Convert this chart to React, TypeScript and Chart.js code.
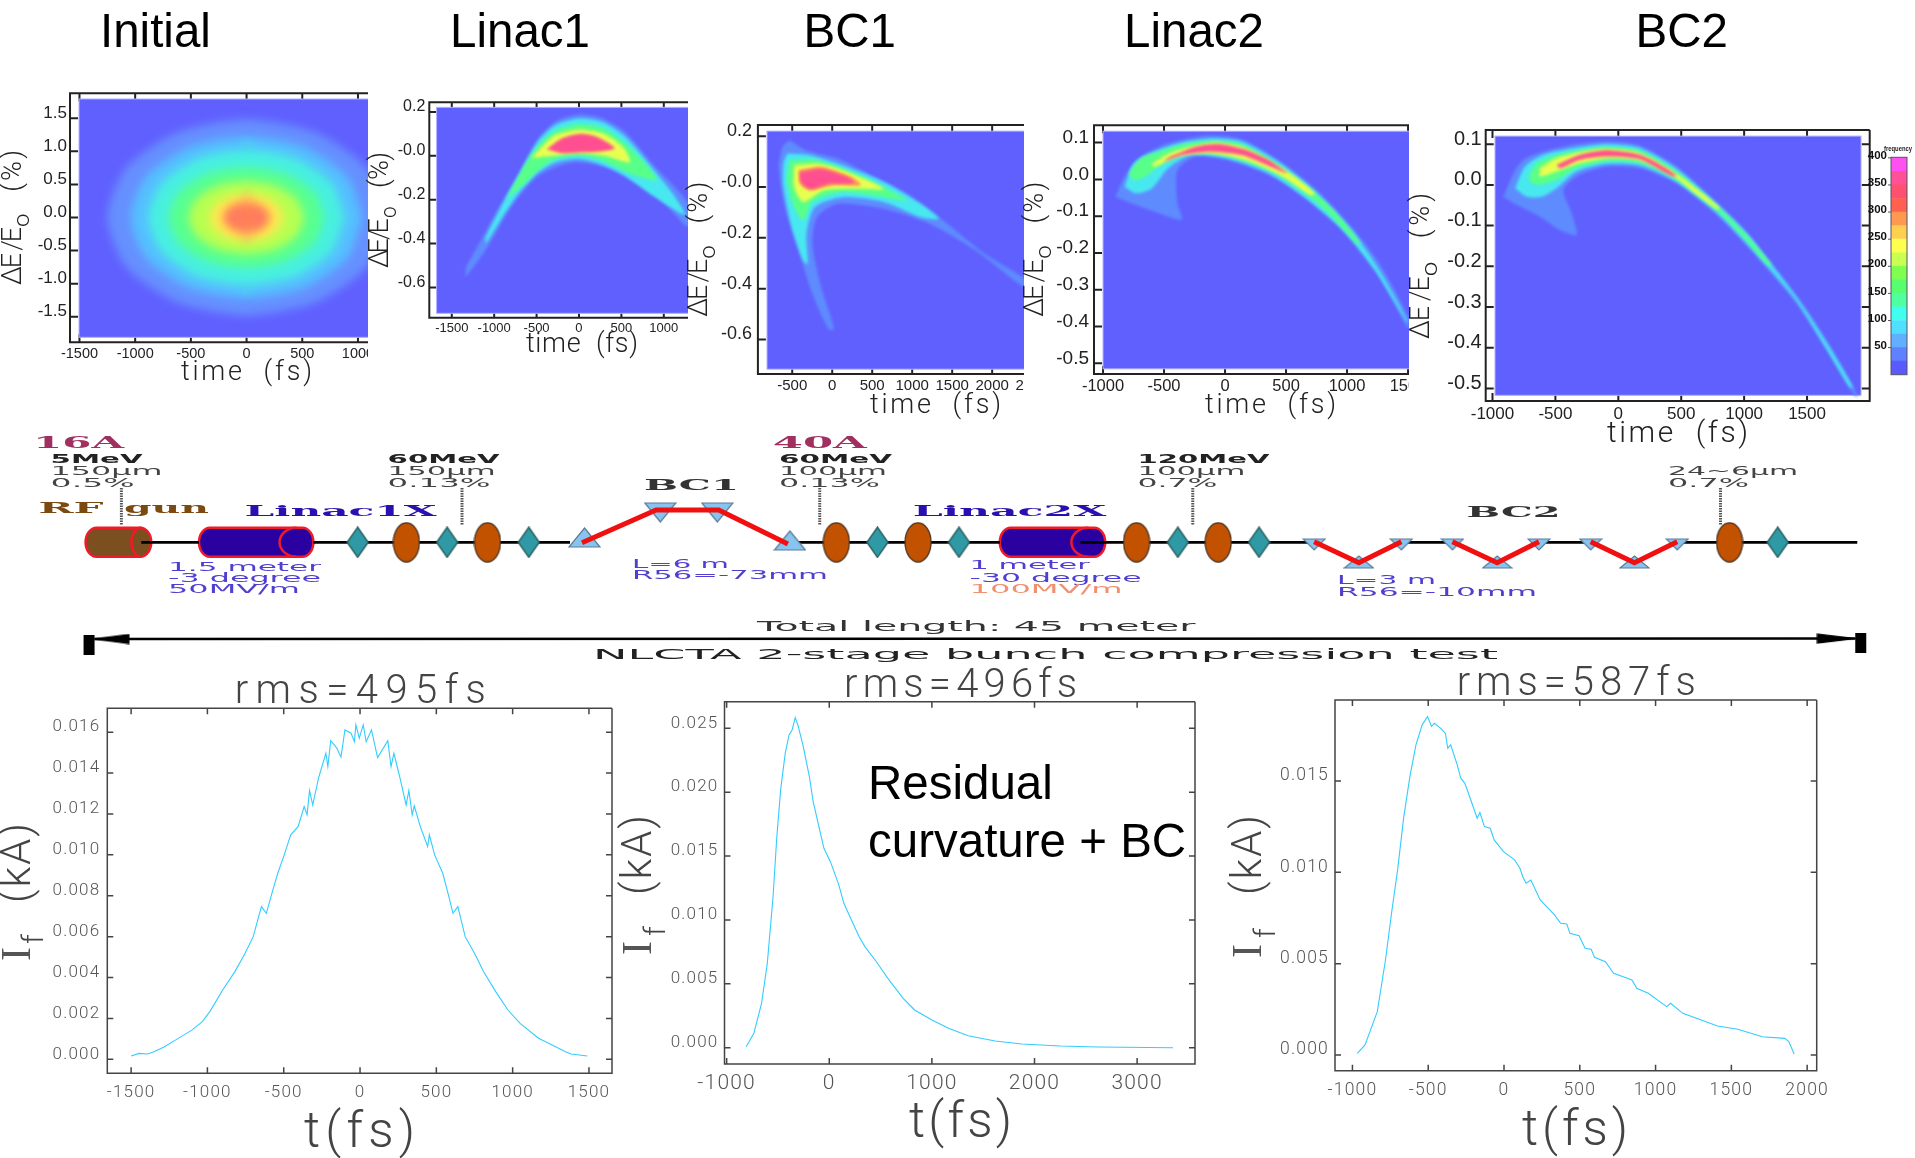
import React, { useEffect, useRef } from "react";
import { Chart, registerables } from "chart.js";
Chart.register(...registerables);

const W = 1915, H = 1158;
const ARIAL = '"Liberation Sans",sans-serif';
const THIN = 'Roboto,"Liberation Sans",sans-serif';
const SERIF = '"DejaVu Serif",serif';
const SLAB = '"Liberation Serif",serif';
const SANS = '"DejaVu Sans",sans-serif';

// colours of the density map
const HEAT_BG = "#6060ff";
const C_FAINT = "#5e8cff", C_CYAN = "#48e8f0", C_GREEN = "#58ff88", C_YELLOW = "#e8ff50", C_ORANGE = "#ff9058", C_PINK = "#ff4f90";

// density contours, [time fs, dE/E0 %]
const initialContours: [string, number[][]][] = [
  ["#6690ff", [[1250,0],[1085,.74],[625,1.28],[0,1.48],[-625,1.28],[-1085,.74],[-1250,0],[-1085,-.74],[-625,-1.28],[0,-1.48],[625,-1.28],[1085,-.74]]],
  ["#55c0ff", [[1040,0],[905,.61],[520,1.06],[0,1.22],[-520,1.06],[-905,.61],[-1040,0],[-905,-.61],[-520,-1.06],[0,-1.22],[520,-1.06],[905,-.61]]],
  ["#48f0e0", [[880,0],[765,.51],[440,.89],[0,1.02],[-440,.89],[-765,.51],[-880,0],[-765,-.51],[-440,-.89],[0,-1.02],[440,-.89],[765,-.51]]],
  ["#58ff90", [[700,0],[610,.38],[350,.66],[0,.76],[-350,.66],[-610,.38],[-700,0],[-610,-.38],[-350,-.66],[0,-.76],[350,-.66],[610,-.38]]],
  ["#b8ff50", [[520,0],[450,.28],[260,.48],[0,.55],[-260,.48],[-450,.28],[-520,0],[-450,-.28],[-260,-.48],[0,-.55],[260,-.48],[450,-.28]]],
  ["#ffe850", [[330,0],[285,.18],[165,.31],[0,.36],[-165,.31],[-285,.18],[-330,0],[-285,-.18],[-165,-.31],[0,-.36],[165,-.31],[285,-.18]]],
  ["#ff8858", [[210,0],[180,.12],[105,.21],[0,.24],[-105,.21],[-180,.12],[-210,0],[-180,-.12],[-105,-.21],[0,-.24],[105,-.21],[180,-.12]]],
];
const initialSpotsPink = [[-120,.06],[-120,-.06],[120,.06],[120,-.06],[-70,.12],[70,.12],[-70,-.12],[70,-.12],[-165,0],[165,0],[0,.35],[0,-.35],[0,.22],[0,-.22],[-40,0],[40,0]];
const initialSpotsCyan = [[0,1.13],[-30,1.1],[30,1.1],[0,-1.13],[-30,-1.1],[30,-1.1]];

const linac1Contours: [string, number[][]][] = [
  [C_FAINT, [[-1334,-.507],[-1090,-.339],[-873,-.186],[-710,-.079],[-493,.073],[-277,.157],[-5,.188],[266,.173],[537,.111],[862,-.034],[1285,-.217],[1285,-.324],[970,-.2],[645,-.118],[320,-.053],[-5,-.029],[-222,-.044],[-493,-.095],[-710,-.186],[-873,-.278],[-1090,-.423],[-1334,-.55]]],
  [C_CYAN, [[-1100,-.37],[-873,-.2],[-710,-.09],[-493,.06],[-277,.14],[0,.17],[266,.155],[537,.09],[862,-.055],[1100,-.17],[1250,-.27],[862,-.18],[537,-.09],[266,-.04],[0,-.015],[-277,-.03],[-493,-.08],[-710,-.17],[-873,-.26],[-1100,-.40]]],
  [C_GREEN, [[-860,-.2],[-650,-.05],[-493,.04],[-277,.115],[0,.145],[266,.13],[537,.06],[750,-.02],[920,-.11],[750,-.1],[537,-.07],[266,-.02],[0,0],[-277,-.015],[-493,-.07],[-650,-.13]]],
  [C_YELLOW, [[-560,-.01],[-300,.09],[0,.12],[300,.1],[520,.04],[600,-.03],[300,0],[0,.012],[-300,0]]],
  [C_PINK, [[-380,.03],[-200,.08],[0,.1],[200,.088],[420,.035],[200,.018],[0,.015],[-200,.012]]],
];

const bc1Contours: [string, number[][]][] = [
  [C_FAINT, [[-534,.184],[-333,.145],[69,.112],[529,.039],[931,-.026],[1333,-.118],[1908,-.263],[2402,-.362],[2402,-.395],[1793,-.25],[1218,-.145],[644,-.086],[69,-.066],[-190,-.118],[-247,-.224],[-149,-.382],[23,-.559],[-46,-.559],[-247,-.421],[-420,-.25],[-592,-.079],[-667,.079],[-620,.158]]],
  [C_CYAN, [[-563,.132],[-276,.125],[184,.079],[644,.02],[1103,-.066],[1333,-.125],[1103,-.118],[644,-.059],[126,-.04],[-218,-.079],[-322,-.184],[-305,-.303],[-362,-.29],[-506,-.158],[-609,0],[-609,.092]]],
  [C_GREEN, [[-534,.105],[-218,.108],[184,.066],[644,0],[931,-.053],[644,-.04],[126,-.02],[-247,-.059],[-362,-.132],[-477,-.079],[-563,.026]]],
  [C_YELLOW, [[-477,.086],[-161,.092],[241,.053],[644,-.007],[299,-.007],[-103,-.013],[-362,-.059],[-477,0]]],
  [C_ORANGE, [[-420,.066],[-132,.079],[241,.039],[356,.007],[11,.007],[-276,-.013],[-402,.013]]],
  [C_PINK, [[-402,.059],[-132,.07],[184,.039],[270,.016],[-46,.013],[-276,-.007],[-391,.02]]],
];

const linac2Contours: [string, number[][]][] = [
  [C_FAINT, [[-898,-.047],[-823,.007],[-692,.062],[-466,.098],[-165,.118],[135,.109],[436,.052],[737,-.024],[1037,-.129],[1263,-.228],[1500,-.373],[1500,-.405],[1225,-.237],[962,-.129],[662,-.047],[361,.012],[23,.052],[-241,.062],[-391,.025],[-391,-.065],[-353,-.11],[-541,-.092],[-767,-.065]]],
  [C_CYAN, [[-823,-.02],[-748,.043],[-541,.08],[-316,.102],[-90,.111],[135,.102],[436,.048],[737,-.033],[1037,-.138],[1263,-.246],[1500,-.386],[1489,-.386],[1225,-.246],[962,-.138],[662,-.052],[361,.016],[23,.057],[-278,.066],[-466,.03],[-598,-.024],[-729,-.038]]],
  [C_GREEN, [[-786,.016],[-692,.057],[-504,.08],[-316,.098],[-90,.105],[135,.096],[436,.039],[662,-.015],[887,-.083],[1113,-.174],[1083,-.174],[850,-.092],[624,-.029],[361,.025],[23,.063],[-278,.072],[-504,.043],[-654,.007],[-748,-.002]]],
  [C_YELLOW, [[-598,.043],[-429,.075],[-90,.1],[173,.084],[511,.021],[737,-.038],[699,-.043],[474,.007],[173,.052],[-128,.071],[-391,.062],[-579,.034]]],
  [C_PINK, [[-447,.062],[-241,.089],[-53,.096],[173,.08],[361,.052],[511,.016],[342,.039],[135,.066],[-128,.075],[-353,.066],[-504,.048]]],
];

const bc2Contours: [string, number[][]][] = [
  [C_FAINT, [[-913,-.029],[-833,.029],[-754,.062],[-595,.082],[-357,.099],[-93,.107],[172,.097],[463,.045],[807,-.049],[1019,-.115],[1230,-.197],[1442,-.283],[1680,-.394],[1905,-.518],[1879,-.518],[1654,-.402],[1416,-.291],[1204,-.213],[992,-.14],[781,-.074],[463,.004],[172,.041],[-93,.045],[-331,.021],[-437,-.012],[-370,-.07],[-331,-.123],[-463,-.111],[-622,-.078],[-833,-.045]]],
  [C_CYAN, [[-820,-.008],[-741,.045],[-595,.074],[-357,.09],[-93,.1],[172,.09],[463,.039],[807,-.055],[1019,-.119],[1230,-.201],[1442,-.287],[1667,-.394],[1865,-.497],[1839,-.497],[1649,-.4],[1421,-.287],[1206,-.207],[992,-.134],[781,-.067],[450,.01],[172,.048],[-93,.052],[-331,.033],[-490,-.008],[-609,-.029],[-728,-.029]]],
  [C_GREEN, [[-714,.021],[-648,.053],[-490,.074],[-304,.086],[-93,.093],[172,.084],[463,.033],[807,-.057],[1019,-.123],[1217,-.197],[1191,-.198],[997,-.129],[781,-.062],[450,.016],[172,.054],[-93,.058],[-331,.041],[-490,.012],[-622,0],[-688,.004]]],
  [C_YELLOW, [[-622,.041],[-490,.066],[-278,.082],[-93,.088],[172,.078],[463,.027],[648,-.016],[807,-.057],[781,-.059],[622,-.023],[450,.019],[172,.06],[-93,.065],[-304,.053],[-490,.033],[-622,.021]]],
  [C_PINK, [[-490,.049],[-304,.074],[-93,.085],[172,.074],[357,.045],[463,.022],[423,.022],[172,.063],[-93,.07],[-304,.062],[-463,.041]]],
];

// current profiles
const profile1T = [-1500,-1447,-1394,-1354,-1287,-1207,-1100,-1033,-980,-900,-820,-753,-700,-646,-614,-571,-539,-499,-454,-406,-366,-347,-331,-310,-272,-224,-211,-192,-152,-125,-99,-59,-37,-27,-5,21,40,75,115,182,203,222,262,302,320,342,355,395,443,454,489,542,582,609,641,689,756,809,889,969,1049,1169,1236,1343,1383,1490];
const profile1I = [.00016,.00029,.00026,.00036,.00059,.00095,.00144,.00184,.00238,.00339,.00429,.00519,.006,.00747,.00714,.00829,.0091,.00995,.01098,.01138,.01236,.01196,.01315,.01244,.01375,.01497,.01432,.01559,.01522,.01478,.01611,.01595,.01554,.01636,.01571,.01636,.01554,.01611,.01476,.01559,.01432,.01497,.01375,.01244,.01315,.01196,.0124,.01138,.01041,.01098,.01,.0091,.00796,.00714,.00747,.006,.0051,.00429,.00331,.00241,.00176,.00103,.00078,.00038,.00026,.00016];
const profile2T = [-810,-735,-660,-604,-548,-511,-474,-429,-392,-362,-332,-306,-257,-194,-157,-101,-52,11,93,142,216,291,347,459,571,720,832,1000,1168,1354,1616,1877,2250,2623,3350];
const profile2I = [.00008,.00112,.00347,.0066,.01182,.01652,.02018,.02305,.02448,.02487,.02584,.02526,.0237,.02122,.01926,.0173,.01561,.01456,.01274,.0113,.01,.00869,.00791,.00673,.00543,.00386,.00295,.00217,.00151,.00094,.00052,.00029,.00013,.00005,0];
const profile3T = [-968,-917,-836,-782,-742,-702,-661,-621,-581,-540,-505,-478,-460,-419,-387,-371,-352,-312,-285,-258,-204,-177,-159,-129,-91,-65,-3,70,105,124,145,177,239,333,374,414,435,495,535,575,597,669,723,844,876,952,1073,1099,1180,1301,1409,1543,1704,1852,1879,1914];
const profile3I = [.00009,.00055,.00237,.0052,.00776,.01013,.01305,.01524,.01697,.01807,.01852,.01798,.01816,.01789,.01761,.01679,.01697,.01597,.01515,.01487,.0136,.01296,.01327,.0125,.01241,.01177,.01113,.01068,.01022,.00976,.0094,.00958,.00849,.00767,.00721,.00717,.00666,.00653,.00584,.00579,.00535,.00511,.00447,.00411,.00365,.00338,.00265,.00283,.00228,.00192,.00159,.00141,.001,.00091,.00073,.00005];

// colour bar
const barEdges = [0,25,50,75,100,125,150,175,200,225,250,275,300,325,350,375,401];
const barColors = ["#5a5aff","#5f80ff","#60b0ff","#50e0ff","#40ffee","#50ffa0","#55ff70","#80ff50","#c8ff50","#ffff50","#ffd050","#ff9850","#ff6050","#ff5070","#ff5098","#ff50f0"];
const barTicks = [50,100,150,200,250,300,350,400];

// beamline schematic, positions along the line
const BEAM_Y = 542.3;
const beamSegments = [[137,195],[310,568],[787,1000],[1081,1317],[1404,1455],[1542,1594],[1681,1862]];
const diamondsX = [354.5,444.4,526.5,877,959,1179,1260.6,1782];
const solenoidsX = [403.5,485,835.7,917.8,1137.5,1219.6,1733.6];
const bc1Path = [[580,542.7],[654.5,510],[717.5,510],[787,544]];
const bc2Paths = [[[1316,541.7],[1361,562.7],[1403.7,541.7]],[[1455,541.7],[1500,562.7],[1542,541.7]],[[1594,541.7],[1638,562.7],[1681,541.7]]];
const bc1Up = [[582.5,537.5],[789,540.5]];
const bc1Down = [[658.7,512.5],[716,512.5]];
const bc2Down = [[1316,544.5],[1403.7,544.5],[1455,544.5],[1542,544.5],[1594,544.5],[1681,544.5]];
const bc2Up = [[1361,562],[1500,562],[1638,562]];
const diagnosticsX = [117,459.4,819,1194,1724.5];
const cavities = [
  { x0: 81, x1: 147, arc: 137, fill: "#7b4f20" },
  { x0: 195, x1: 310, arc: 293, fill: "#2a00a0" },
  { x0: 1000, x1: 1106, arc: 1089, fill: "#2a00a0" },
];

type Item = { t: string; x: number; y: number; w?: number; size: number; font?: string; color?: string; weight?: string | number; rot?: boolean; spaced?: boolean };

function drawItems(ctx: any, items: Item[]) {
  for (const it of items) {
    ctx.save();
    ctx.letterSpacing = "0px";
    ctx.font = `${it.weight ?? 400} ${it.size}px ${it.font ?? THIN}`;
    ctx.fillStyle = it.color ?? "#222";
    ctx.textAlign = "left";
    ctx.textBaseline = "alphabetic";
    ctx.translate(it.x, it.y);
    if (it.rot) ctx.rotate(-Math.PI / 2);
    if (it.w) {
      const m = ctx.measureText(it.t).width;
      if (it.spaced && it.t.length > 1) ctx.letterSpacing = `${(it.w - m) / (it.t.length - 1)}px`;
      else ctx.scale(it.w / m, 1);
    }
    ctx.fillText(it.t, 0, 0);
    ctx.restore();
  }
}

const heading = (t: string, x: number): Item => ({ t, x, y: 47, size: 47.5, font: ARIAL, color: "#000" });
const xTitle = (x: number, y: number, w: number, size = 27): Item => ({ t: "time  (fs)", x, y, w, size, weight: 300, spaced: true, color: "#222" });
const yTitle = (x: number, bottom: number, len: number, size = 27): Item[] => [
  { t: "ΔE /E", x, y: bottom, w: len * 0.43, size, weight: 300, rot: true, spaced: true, color: "#222" },
  { t: "o", x: x + 8, y: bottom - len * 0.43, w: len * 0.1, size: size * 0.8, weight: 300, rot: true, color: "#222" },
  { t: "(%)", x, y: bottom - len * 0.69, w: len * 0.31, size, weight: 300, rot: true, spaced: true, color: "#222" },
];
const rmsTitle = (t: string, x: number, y: number, w: number): Item => ({ t, x, y, w, size: 40, weight: 300, spaced: true, color: "#444" });
const tTitle = (x: number, y: number, w: number): Item => ({ t: "t(fs)", x, y, w, size: 50, weight: 300, spaced: true, color: "#444" });
const ifTitle = (x: number, bottom: number, top: number, fx: number, fy: number): Item[] => [
  { t: "I", x, y: bottom, size: 42, font: SLAB, weight: 400, rot: true, color: "#555" },
  { t: "f", x: fx, y: fy, size: 30, weight: 300, rot: true, color: "#444" },
  { t: "(kA)", x, y: top + 80, w: 80, size: 42, weight: 300, rot: true, spaced: true, color: "#444" },
];

type PanelSpec = {
  frame: number[]; xr: number[]; yr: number[]; xt: number[]; xl: string[]; yt: number[]; yl: string[];
  tickFont: any; xPad: number; yPad: number; tickSpacing?: string; tickColor: string;
  frameColor: string; frameWidth: number; tickLen: number; rightTicks: boolean; rightFrame: boolean;
  heat?: number[]; contours?: [string, number[][]][]; extra?: any[]; line?: { t: number[]; i: number[] };
  clipRight?: number; items: Item[]; xFont?: any; blur?: number;
};

const P_HEAT = { tickColor: "#222", frameColor: "#222", frameWidth: 2, tickLen: 8, blur: 1.8 };
const P_LINE = { tickColor: "#555", frameColor: "#444", frameWidth: 1.5, tickLen: 6, rightTicks: true, rightFrame: true, tickSpacing: "1.2px" };

const spots = (pts: number[][], c: string) => ({
  data: pts.map(([x, y]) => ({ x, y })), pointRadius: 2.2, pointStyle: "rect", pointBackgroundColor: c, pointBorderWidth: 0, showLine: false,
});

const panels: PanelSpec[] = [
  { ...P_HEAT, blur: 5, frame: [70, 93.3, 370, 342.3], xr: [-1585, 1108], yr: [-1.887, 1.878],
    xt: [-1500,-1000,-500,0,500,1000], xl: ["-1500","-1000","-500","0","500","1000"],
    yt: [1.5,1,.5,0,-.5,-1,-1.5], yl: ["1.5","1.0","0.5","0.0","-0.5","-1.0","-1.5"],
    tickFont: { family: ARIAL, size: 17 }, xFont: { family: ARIAL, size: 14.5 }, xPad: 3, yPad: 3, rightTicks: false, rightFrame: false,
    heat: [-1504, 1108, -1.812, 1.792], contours: initialContours,
    extra: [spots(initialSpotsPink, "#ff4f90"), spots(initialSpotsCyan, "#48f0e0")], clipRight: 368,
    items: [heading("Initial", 100), xTitle(181, 380, 131), ...yTitle(21, 285, 135)] },
  { ...P_HEAT, frame: [429.3, 102.3, 690, 317.7], xr: [-1765, 1309], yr: [-.738, .244],
    xt: [-1500,-1000,-500,0,500,1000], xl: ["-1500","-1000","-500","0","500","1000"],
    yt: [.2,0,-.2,-.4,-.6], yl: ["0.2","-0.0","-0.2","-0.4","-0.6"],
    tickFont: { family: ARIAL, size: 16 }, xFont: { family: ARIAL, size: 13 }, xPad: 3, yPad: 4, rightTicks: false, rightFrame: false,
    heat: [-1679, 1309, -.718, .221], contours: linac1Contours, clipRight: 688,
    items: [heading("Linac1", 450), xTitle(526, 352, 112), ...yTitle(388, 268, 116)] },
  { ...P_HEAT, frame: [757.9, 125, 1026, 374], xr: [-929, 2423], yr: [-.736, .244],
    xt: [-500,0,500,1000,1500,2000,2500], xl: ["-500","0","500","1000","1500","2000","2500"],
    yt: [.2,0,-.2,-.4,-.6], yl: ["0.2","-0.0","-0.2","-0.4","-0.6"],
    tickFont: { family: ARIAL, size: 18 }, xFont: { family: ARIAL, size: 15 }, xPad: 3, yPad: 6, rightTicks: false, rightFrame: false,
    heat: [-815, 2423, -.717, .22], contours: bc1Contours, clipRight: 1024,
    items: [heading("BC1", 803.6), xTitle(870, 413, 131), ...yTitle(707, 316.7, 135)] },
  { ...P_HEAT, frame: [1094, 125.3, 1410, 374], xr: [-1074, 1516], yr: [-.529, .147],
    xt: [-1000,-500,0,500,1000,1500], xl: ["-1000","-500","0","500","1000","1500"],
    yt: [.1,0,-.1,-.2,-.3,-.4,-.5], yl: ["0.1","0.0","-0.1","-0.2","-0.3","-0.4","-0.5"],
    tickFont: { family: ARIAL, size: 19 }, xFont: { family: ARIAL, size: 16.5 }, xPad: 3, yPad: 5, rightTicks: false, rightFrame: false,
    heat: [-1000, 1516, -.515, .131], contours: linac2Contours, clipRight: 1408.5,
    items: [heading("Linac2", 1124), xTitle(1205, 413, 131), ...yTitle(1043.4, 316.7, 135)] },
  { ...P_HEAT, frame: [1485.7, 130, 1869.7, 401], xr: [-1054, 1998], yr: [-.531, .135],
    xt: [-1000,-500,0,500,1000,1500], xl: ["-1000","-500","0","500","1000","1500"],
    yt: [.1,0,-.1,-.2,-.3,-.4,-.5], yl: ["0.1","0.0","-0.1","-0.2","-0.3","-0.4","-0.5"],
    tickFont: { family: ARIAL, size: 20 }, xFont: { family: ARIAL, size: 17 }, xPad: 3, yPad: 4, rightTicks: true, rightFrame: true,
    heat: [-980, 1929, -.517, .12], contours: bc2Contours,
    items: [heading("BC2", 1635.5), xTitle(1607, 441.6, 141, 30), ...yTitle(1429, 339, 146)] },
  { ...P_LINE, frame: [107.3, 708.3, 612, 1073.3], xr: [-1656, 1651], yr: [-.000685, .01717],
    xt: [-1500,-1000,-500,0,500,1000,1500], xl: ["-1500","-1000","-500","0","500","1000","1500"],
    yt: [.016,.014,.012,.01,.008,.006,.004,.002,0], yl: ["0.016","0.014","0.012","0.010","0.008","0.006","0.004","0.002","0.000"],
    tickFont: { family: THIN, size: 17, weight: 300 }, xPad: 9, yPad: 7,
    line: { t: profile1T, i: profile1I },
    items: [rmsTitle("rms=495fs", 234.7, 703, 251), tTitle(304, 1146.7, 111), ...ifTitle(30, 961, 823, 43, 944)] },
  { ...P_LINE, frame: [724.5, 701.7, 1195, 1064], xr: [-1021, 3564], yr: [-.001276, .02708],
    xt: [-1000,0,1000,2000,3000], xl: ["-1000","0","1000","2000","3000"],
    yt: [.025,.02,.015,.01,.005,0], yl: ["0.025","0.020","0.015","0.010","0.005","0.000"],
    tickFont: { family: THIN, size: 17, weight: 300 }, xFont: { family: THIN, size: 21, weight: 300 }, xPad: 7, yPad: 6,
    line: { t: profile2T, i: profile2I },
    items: [rmsTitle("rms=496fs", 844, 696.7, 233), tTitle(909, 1136.7, 103), ...ifTitle(651, 955, 815, 665, 936),
      { t: "Residual", x: 868, y: 799, size: 47.5, font: ARIAL, color: "#000" },
      { t: "curvature + BC", x: 868, y: 856.7, size: 47.5, font: ARIAL, color: "#000" }] },
  { ...P_LINE, frame: [1335, 700, 1816.7, 1070.7], xr: [-1115, 2063], yr: [-.00086, .01943],
    xt: [-1000,-500,0,500,1000,1500,2000], xl: ["-1000","-500","0","500","1000","1500","2000"],
    yt: [.015,.01,.005,0], yl: ["0.015","0.010","0.005","0.000"],
    tickFont: { family: THIN, size: 17.5, weight: 300 }, xPad: 9, yPad: 6,
    line: { t: profile3T, i: profile3I },
    items: [rmsTitle("rms=587fs", 1456.7, 695, 239), tTitle(1522, 1145, 106), ...ifTitle(1261, 958, 815, 1275, 938)] },
];

function panelConfig(p: PanelSpec) {
  const [l, t, r, b] = p.frame;
  const datasets: any[] = [];
  if (p.line) {
    datasets.push({ data: p.line.t.map((x, i) => ({ x, y: p.line!.i[i] })), showLine: true, borderColor: "#33ccff", borderWidth: 1.1, pointRadius: 0 });
  }
  if (p.extra) for (const e of p.extra) datasets.push(e);
  if (p.contours) for (const [color, poly] of [...p.contours].reverse()) {
    const pts = [...poly, poly[0]].map(([x, y]) => ({ x, y }));
    datasets.push({ data: pts, showLine: true, fill: "shape", backgroundColor: color, borderWidth: 0, pointRadius: 0, tension: 0.25 });
  }
  const plugin = {
    id: "panelDecor",
    beforeDraw(c: any) { c.ctx.letterSpacing = p.tickSpacing ?? "0px"; },
    beforeDatasetsDraw(c: any) {
      const ctx = c.ctx, sx = c.scales.x, sy = c.scales.y;
      ctx.save();
      ctx.strokeStyle = p.frameColor;
      ctx.lineWidth = p.frameWidth;
      ctx.beginPath();
      for (const v of p.xt) {
        const px = sx.getPixelForValue(v);
        ctx.moveTo(px, t); ctx.lineTo(px, t + p.tickLen);
        ctx.moveTo(px, b); ctx.lineTo(px, b - p.tickLen);
      }
      for (const v of p.yt) {
        const py = sy.getPixelForValue(v);
        ctx.moveTo(l, py); ctx.lineTo(l + p.tickLen, py);
        if (p.rightTicks) { ctx.moveTo(r, py); ctx.lineTo(r - p.tickLen, py); }
      }
      ctx.moveTo(r, t); ctx.lineTo(l, t); ctx.lineTo(l, b); ctx.lineTo(r, b);
      if (p.rightFrame) ctx.lineTo(r, t);
      ctx.stroke();
      if (p.heat) {
        const x0 = sx.getPixelForValue(p.heat[0]), x1 = sx.getPixelForValue(p.heat[1]);
        const y1 = sy.getPixelForValue(p.heat[2]), y0 = sy.getPixelForValue(p.heat[3]);
        ctx.fillStyle = HEAT_BG;
        ctx.fillRect(x0, y0, x1 - x0, y1 - y0);
        ctx.strokeStyle = "#b0b0ff";
        ctx.lineWidth = 1;
        ctx.strokeRect(x0, y0, x1 - x0, y1 - y0);
      }
      ctx.restore();
      if (p.heat) ctx.filter = `blur(${p.blur}px)`;
    },
    afterDatasetsDraw(c: any) { c.ctx.filter = "none"; },
    afterDraw(c: any) { c.ctx.letterSpacing = "0px"; drawItems(c.ctx, p.items); },
  };
  return {
    type: "scatter",
    data: { datasets },
    plugins: [plugin],
    options: {
      responsive: false, animation: false, devicePixelRatio: 1, events: [],
      layout: { padding: { left: 0, top: t, right: W - r, bottom: 0 } },
      plugins: { legend: { display: false }, tooltip: { enabled: false } },
      scales: {
        x: {
          type: "linear", min: p.xr[0], max: p.xr[1], grid: { display: false, drawTicks: false }, border: { display: false },
          afterBuildTicks: (s: any) => { s.ticks = p.xt.map((value) => ({ value })); },
          afterFit: (s: any) => { s.height = H - b; s.paddingLeft = s.paddingRight = s.paddingTop = s.paddingBottom = 0; },
          ticks: { autoSkip: false, maxRotation: 0, minRotation: 0, padding: p.xPad, color: p.tickColor, font: p.xFont ?? p.tickFont, callback: (_: any, i: number) => p.xl[i] },
        },
        y: {
          type: "linear", min: p.yr[0], max: p.yr[1], grid: { display: false, drawTicks: false }, border: { display: false },
          afterBuildTicks: (s: any) => { s.ticks = [...p.yt].reverse().map((value) => ({ value })); },
          afterFit: (s: any) => { s.width = l; s.paddingLeft = s.paddingRight = s.paddingTop = s.paddingBottom = 0; },
          ticks: { autoSkip: false, padding: p.yPad, color: p.tickColor, font: p.tickFont, labelOffset: -5,
            callback: (_: any, i: number) => [...p.yl].reverse()[i] },
        },
      },
    },
  };
}

function colorbarConfig() {
  const items: Item[] = [{ t: "frequency", x: 1884, y: 150.5, w: 28, size: 8, font: ARIAL, weight: 700, color: "#222" }];
  return {
    type: "bar",
    data: {
      labels: ["frequency"],
      datasets: barColors.map((c, i) => ({ data: [[barEdges[i], barEdges[i + 1]]], backgroundColor: c, borderWidth: 0, barPercentage: 1, categoryPercentage: 1, grouped: false })),
    },
    plugins: [{
      id: "barDecor",
      afterDraw(c: any) {
        const a = c.chartArea, ctx = c.ctx;
        ctx.save();
        ctx.strokeStyle = "#556"; ctx.lineWidth = 1;
        ctx.strokeRect(a.left, a.top, a.right - a.left, a.bottom - a.top);
        ctx.beginPath();
        for (const v of barTicks) { const y = c.scales.y.getPixelForValue(v); ctx.moveTo(a.left - 3, y); ctx.lineTo(a.left, y); }
        ctx.stroke();
        ctx.restore();
        drawItems(ctx, items);
      },
    }],
    options: {
      responsive: false, animation: false, devicePixelRatio: 1, events: [],
      layout: { padding: { left: 0, top: 157.3, right: W - 1907, bottom: H - 374.7 } },
      plugins: { legend: { display: false }, tooltip: { enabled: false } },
      scales: {
        x: { display: false },
        y: { type: "linear", min: 0, max: 401, grid: { display: false, drawTicks: false }, border: { display: false },
          afterBuildTicks: (s: any) => { s.ticks = barTicks.map((value) => ({ value })); },
          afterFit: (s: any) => { s.width = 1891; s.paddingTop = s.paddingBottom = 0; },
          ticks: { autoSkip: false, padding: 4, color: "#111", font: { family: ARIAL, size: 11.5, weight: 700 }, labelOffset: -2 } },
      },
    },
  };
}

function sprite(w: number, h: number, draw: (c: CanvasRenderingContext2D) => void) {
  const cv = document.createElement("canvas");
  cv.width = w; cv.height = h;
  draw(cv.getContext("2d")!);
  return cv;
}
const diamond = () => sprite(23, 32, (c) => {
  c.beginPath(); c.moveTo(11.5, 1); c.lineTo(22, 16); c.lineTo(11.5, 31); c.lineTo(1, 16); c.closePath();
  c.fillStyle = "#2f9aa6"; c.fill(); c.strokeStyle = "#2d6464"; c.lineWidth = 1.5; c.stroke();
});
const solenoid = () => sprite(28, 41, (c) => {
  c.beginPath(); c.ellipse(14, 20.5, 13, 19.5, 0, 0, Math.PI * 2);
  c.fillStyle = "#c25200"; c.fill(); c.strokeStyle = "#4a3424"; c.lineWidth = 1.3; c.stroke();
});
const triangle = (w: number, h: number, down: boolean, fill = "#88c4f0", stroke = "#5c7c94") => sprite(w + 2, h + 2, (c) => {
  c.beginPath();
  if (down) { c.moveTo(1, 1); c.lineTo(w + 1, 1); c.lineTo(w / 2 + 1, h + 1); }
  else { c.moveTo(w / 2 + 1, 1); c.lineTo(w + 1, h + 1); c.lineTo(1, h + 1); }
  c.closePath(); c.fillStyle = fill; c.fill(); c.strokeStyle = stroke; c.lineWidth = 1.2; c.stroke();
});

const schematicText: Item[] = [
  ...[
    ["16A", 33, 448, 91], ["40A", 772.7, 448, 94],
  ].map(([t, x, y, w]: any) => ({ t, x, y, w, size: 16, font: SERIF, weight: 700, color: "#a03060" })),
  ...[
    ["5MeV", 50.6, 462.7, 92], ["60MeV", 387.6, 462.7, 112], ["60MeV", 779, 462.7, 113], ["120MeV", 1137.5, 462.7, 132],
  ].map(([t, x, y, w]: any) => ({ t, x, y, w, size: 12, font: SANS, weight: 700, color: "#222" })),
  ...[
    ["150μm", 50.6, 475, 112], ["0.5%", 50.6, 486.7, 84], ["150μm", 387.6, 475, 108], ["0.13%", 387.6, 486.7, 103],
    ["100μm", 779, 475, 108], ["0.13%", 779, 486.7, 101], ["100μm", 1137.5, 475, 108], ["0.7%", 1137.5, 486.7, 80],
    ["24~6μm", 1668, 475, 130], ["0.7%", 1668, 486.7, 81],
  ].map(([t, x, y, w]: any) => ({ t, x, y, w, size: 12, font: SANS, color: "#444" })),
  { t: "RF", x: 38.5, y: 513, w: 65, size: 14.5, font: SERIF, weight: 700, color: "#7a4a10" },
  { t: "gun", x: 124, y: 513, w: 85, size: 14.5, font: SERIF, weight: 700, color: "#7a4a10" },
  { t: "Linac1X", x: 244.6, y: 515.7, w: 192, size: 14.5, font: SERIF, weight: 700, color: "#2a10b0" },
  { t: "Linac2X", x: 912.8, y: 515.7, w: 193.5, size: 14.5, font: SERIF, weight: 700, color: "#2a10b0" },
  { t: "BC1", x: 644, y: 490, w: 95, size: 14.5, font: SERIF, weight: 700, color: "#333" },
  { t: "BC2", x: 1466.6, y: 517.3, w: 94, size: 14.5, font: SERIF, weight: 700, color: "#333" },
  ...[
    ["1.5 meter", 168, 570.7, 153], ["-3 degree", 168, 582, 153], ["50MV/m", 168, 593, 132],
    ["L=6 m", 632, 567.7, 97], ["R56=-73mm", 632, 579.3, 196], ["1 meter", 969.6, 569.3, 120], ["-30 degree", 969.6, 581.7, 172],
    ["L=3 m", 1337, 584, 99], ["R56=-10mm", 1337, 595.7, 200],
  ].map(([t, x, y, w]: any) => ({ t, x, y, w, size: 12, font: SANS, color: "#4f3fd0" })),
  { t: "100MV/m", x: 969.6, y: 592.7, w: 153, size: 12, font: SANS, color: "#f09070" },
  { t: "Total length: 45 meter", x: 757, y: 630.7, w: 438.6, size: 14, font: SANS, color: "#333" },
  { t: "NLCTA 2-stage bunch compression test", x: 593, y: 659, w: 905, size: 14.5, font: SANS, color: "#222" },
];

function schematicConfig() {
  const xy = (a: number[][]) => a.map(([x, y]) => ({ x, y }));
  const marks = (a: number[][], style: any, rot = 0) => ({ data: xy(a), pointStyle: style, pointRadius: 3, pointRotation: rot, showLine: false });
  const beam = beamSegments.flatMap(([a, b]) => [{ x: a, y: BEAM_Y }, { x: b, y: BEAM_Y }, { x: NaN, y: NaN }]);
  const red = (a: number[][]) => ({ data: xy(a), showLine: true, borderColor: "#f01010", borderWidth: 5, pointRadius: 0 });
  const dsets: any[] = [
    ...bc2Paths.map(red), red(bc1Path),
    marks(bc1Up, triangle(31, 19, false)), marks(bc1Down, triangle(31, 19, true)),
    marks(bc2Down, triangle(22, 11, true)), marks(bc2Up, triangle(29, 12, false)),
    marks(diamondsX.map((x) => [x, BEAM_Y]), diamond()),
    marks(solenoidsX.map((x) => [x, BEAM_Y]), solenoid()),
    { data: beam, showLine: true, borderColor: "#000", borderWidth: 2.8, pointRadius: 0, spanGaps: false },
    ...diagnosticsX.map((x) => ({ data: [{ x, y: 488 }, { x, y: 525 }], showLine: true, borderColor: "#555", borderWidth: 3, borderDash: [1.5, 1], pointRadius: 0 })),
    marks([[107, 639]], triangle(9, 35, false, "#000", "#000"), -90),
    marks([[1841, 638.6]], triangle(9, 38, false, "#000", "#000"), 90),
    { data: [{ x: 90, y: 639 }, { x: 1860, y: 638.4 }], showLine: true, borderColor: "#000", borderWidth: 2.5, pointRadius: 0 },
    { data: [{ x: 84.5, y: 635 }, { x: 84.5, y: 655 }], showLine: true, borderColor: "#000", borderWidth: 11, pointRadius: 0 },
    { data: [{ x: 1865.5, y: 633 }, { x: 1865.5, y: 653 }], showLine: true, borderColor: "#000", borderWidth: 11, pointRadius: 0 },
  ];
  return {
    type: "scatter",
    data: { datasets: dsets },
    plugins: [{
      id: "schematicDecor",
      beforeDatasetsDraw(c: any) {
        const ctx = c.ctx, sx = c.scales.x, sy = c.scales.y;
        const top = sy.getPixelForValue(527.7), bot = sy.getPixelForValue(556.7);
        const ry = (bot - top) / 2, cy = (top + bot) / 2;
        for (const cav of cavities) {
          const x0 = sx.getPixelForValue(cav.x0), x1 = sx.getPixelForValue(cav.x1), arc = sx.getPixelForValue(cav.arc);
          ctx.save();
          ctx.beginPath();
          ctx.roundRect(x0, top, x1 - x0, bot - top, [{ x: 11, y: ry }]);
          ctx.fillStyle = cav.fill; ctx.fill();
          ctx.strokeStyle = "#f01a2a"; ctx.lineWidth = 2.5; ctx.stroke();
          ctx.beginPath();
          ctx.ellipse(arc, cy, x1 - arc, ry, 0, Math.PI / 2, Math.PI * 1.5);
          ctx.stroke();
          ctx.restore();
        }
      },
      afterDraw(c: any) { drawItems(c.ctx, schematicText); },
    }],
    options: {
      responsive: false, animation: false, devicePixelRatio: 1, events: [],
      layout: { padding: { left: 0, top: 420, right: 0, bottom: H - 720 } },
      plugins: { legend: { display: false }, tooltip: { enabled: false } },
      scales: {
        x: { type: "linear", min: 0, max: W, display: false },
        y: { type: "linear", min: 420, max: 720, reverse: true, display: false },
      },
    },
  };
}

const chartCount = panels.length + 2;

export default function App() {
  const refs = useRef<(HTMLCanvasElement | null)[]>([]);
  useEffect(() => {
    const cfgs: any[] = [schematicConfig(), ...panels.map(panelConfig), colorbarConfig()];
    const charts = cfgs.map((cfg, i) => new Chart(refs.current[i]!, cfg));
    return () => charts.forEach((c) => c.destroy());
  }, []);
  const clips = [undefined, ...panels.map((p) => p.clipRight), undefined];
  return (
    <div style={{ position: "absolute", left: 0, top: 0, width: W, height: H, overflow: "hidden", background: "#fff" }}>
      {Array.from({ length: chartCount }, (_, i) => (
        <canvas key={i} ref={(el) => { refs.current[i] = el; }} width={W} height={H}
          style={{ position: "absolute", left: 0, top: 0, width: W, height: H,
            clipPath: clips[i] ? `inset(0 ${W - clips[i]!}px 0 0)` : undefined,
            filter: i === 0 ? "blur(0.6px)" : undefined }} />
      ))}
    </div>
  );
}
